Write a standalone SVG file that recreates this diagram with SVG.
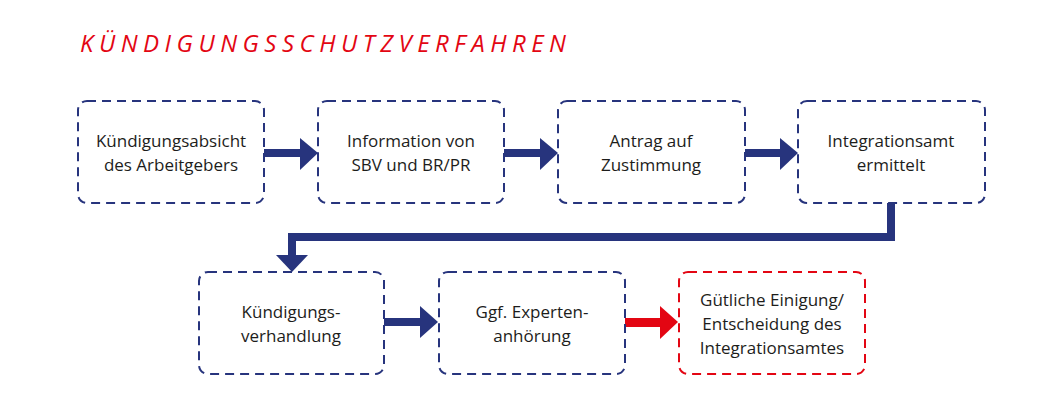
<svg xmlns="http://www.w3.org/2000/svg" width="1063" height="400" viewBox="0 0 1063 400">
<style>
.box{fill:#fff;stroke:#27347d;stroke-width:2;stroke-dasharray:9 6}
.red{stroke:#e30613}
.t{font-family:"Open Sans","Noto Sans",sans-serif;font-size:17px;fill:#1d1d1b;text-anchor:middle}
.title{font-family:"Open Sans","Noto Sans",sans-serif;font-size:24px;font-style:italic;fill:#e30613}
</style>
<rect width="1063" height="400" fill="#fff"/>
<text class="title" x="80" y="52" textLength="486" lengthAdjust="spacing">KÜNDIGUNGSSCHUTZVERFAHREN</text>
<g id="connectors">
<g fill="#27347d">
<rect x="264" y="149" width="37" height="8"/><polygon points="300,138 318,153 300,170"/>
<rect x="504" y="149" width="37" height="8"/><polygon points="540,138 558,153 540,170"/>
<rect x="745" y="149" width="37" height="8"/><polygon points="780,138 798,153 780,170"/>
<path d="M891,203 V237 H292 V256" fill="none" stroke="#27347d" stroke-width="8" stroke-linejoin="miter"/>
<polygon points="276,255 308,255 292,272"/>
<rect x="384" y="318" width="37" height="8"/><polygon points="420,306 438,322 420,338"/>
</g>
<rect x="625" y="318" width="37" height="9" fill="#e30613"/><polygon points="660,306 678,322 660,339" fill="#e30613"/>
</g>
<g id="n1"><rect class="box" x="78" y="101" width="186" height="102" rx="9"/><text class="t" x="171" y="147">Kündigungsabsicht</text><text class="t" x="171" y="171">des Arbeitgebers</text></g>
<g id="n2"><rect class="box" x="318" y="101" width="186" height="102" rx="9"/><text class="t" x="411" y="147">Information von</text><text class="t" x="411" y="171">SBV und BR/PR</text></g>
<g id="n3"><rect class="box" x="558" y="101" width="187" height="102" rx="9"/><text class="t" x="651" y="147">Antrag auf</text><text class="t" x="651" y="171">Zustimmung</text></g>
<g id="n4"><rect class="box" x="798" y="101" width="187" height="102" rx="9"/><text class="t" x="891" y="147">Integrationsamt</text><text class="t" x="891" y="171">ermittelt</text></g>
<g id="n5"><rect class="box" x="199" y="272" width="185" height="102" rx="9"/><text class="t" x="291" y="318">Kündigungs-</text><text class="t" x="291" y="342">verhandlung</text></g>
<g id="n6"><rect class="box" x="439" y="272" width="186" height="102" rx="9"/><text class="t" x="532" y="318">Ggf. Experten-</text><text class="t" x="532" y="342">anhörung</text></g>
<g id="n7"><rect class="box red" x="679" y="272" width="186" height="102" rx="9"/><text class="t" x="772" y="306">Gütliche Einigung/</text><text class="t" x="772" y="330">Entscheidung des</text><text class="t" x="772" y="354">Integrationsamtes</text></g>
</svg>
